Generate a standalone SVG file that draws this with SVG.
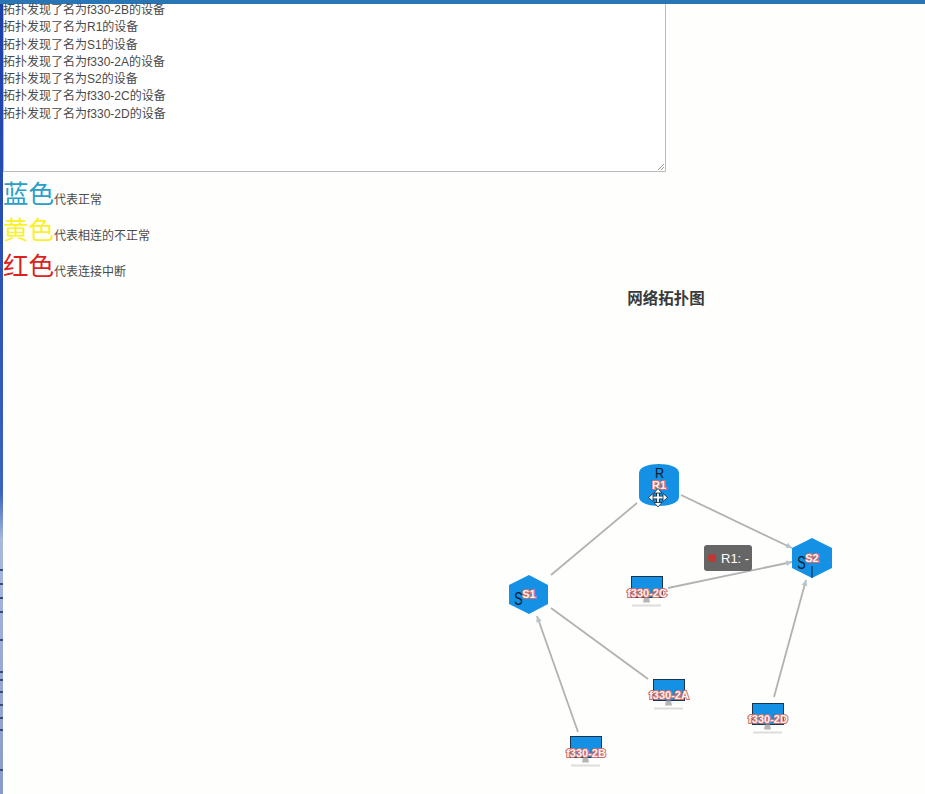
<svg xmlns="http://www.w3.org/2000/svg" width="925" height="794" viewBox="0 0 925 794">
<style>
.log{font:12px "Liberation Sans","Noto Sans CJK SC",sans-serif;fill:#4a4a4a}
.big{font:25.500px "Liberation Sans","Noto Sans CJK SC",sans-serif}
.small{font:12px "Liberation Sans","Noto Sans CJK SC",sans-serif;fill:#4a4a4a}
.lbl{font:bold 11px "Liberation Sans",sans-serif;fill:#fdf0f0;stroke:#c8706c;stroke-width:2px;paint-order:stroke;text-anchor:middle}
.glyph{font:18px "Liberation Sans",sans-serif;fill:#061a30;text-anchor:middle}
.link{stroke:#b2b2b2;stroke-width:1.800;fill:none}
.node{fill:#1490e4}
</style>
<defs>
<marker id="arr" markerWidth="7" markerHeight="8" refX="6" refY="3.500" orient="auto" markerUnits="userSpaceOnUse"><path d="M0 0.500L6 3.500L0 6.500Z" fill="#b8c4c8"/></marker>
<linearGradient id="strip" x1="0" y1="0" x2="0" y2="1"><stop offset="0" stop-color="#1c3fa8"/><stop offset="0.62" stop-color="#3a62c0"/><stop offset="0.68" stop-color="#a9b8dc"/><stop offset="1" stop-color="#8a9ac8"/></linearGradient>
<g id="pc">
<rect x="-15.500" y="-17.500" width="31" height="21" fill="#1490e4" stroke="#1b3550" stroke-width="1"/>
<path d="M-3 3.500h5l1 5h-7z" fill="#b5b5b5"/>
<path d="M-15 11.500h29" stroke="#ddd" stroke-width="2"/>
</g>
</defs>
<rect width="925" height="794" fill="#fefefc"/>
<rect x="0" y="0" width="3" height="794" fill="url(#strip)"/>
<path d="M0 570h3M0 584h3M0 598h3M0 612h3M0 640h3M0 672h3M0 680h3M0 692h3M0 705h3M0 718h3M0 730h3M0 770h3" stroke="#3a4a7f" stroke-width="2"/>
<rect x="0" y="0" width="925" height="4" fill="#2a76b4"/>

<path d="M3.500 4V171.500H665.500V4" fill="#fff" stroke="#bbb"/>
<path d="M658 170L664 164M661 170L664 167" stroke="#999"/>
<g class="log">
<text x="3" y="13.500">拓扑发现了名为f330-2B的设备</text>
<text x="3" y="31">拓扑发现了名为R1的设备</text>
<text x="3" y="48.500">拓扑发现了名为S1的设备</text>
<text x="3" y="65.500">拓扑发现了名为f330-2A的设备</text>
<text x="3" y="83">拓扑发现了名为S2的设备</text>
<text x="3" y="100">拓扑发现了名为f330-2C的设备</text>
<text x="3" y="117.500">拓扑发现了名为f330-2D的设备</text>
</g>
<text class="big" x="3" y="203" fill="#2a9fc9">蓝色</text><text class="small" x="54" y="204">代表正常</text>
<text class="big" x="3" y="239" fill="#fbf02a">黄色</text><text class="small" x="54" y="240">代表相连的不正常</text>
<text class="big" x="3" y="275" fill="#d9231c">红色</text><text class="small" x="54" y="276">代表连接中断</text>
<text x="666" y="303.500" text-anchor="middle" style="font:bold 15.500px 'Liberation Sans','Noto Sans CJK SC',sans-serif;fill:#3a3a3a">网络拓扑图</text>

<g id="connectors">
<path class="link" d="M551 575L637 503"/>
<path class="link" d="M681 495L792 548" marker-end="url(#arr)"/>
<path class="link" d="M668 588L792 562" marker-end="url(#arr)"/>
<path class="link" d="M774 697L806 580" marker-end="url(#arr)"/>
<path class="link" d="M551 608L648 679"/>
<path class="link" d="M578 732L537 616" marker-end="url(#arr)"/>
</g>

<g id="R1">
<path class="node" d="M639 473C639 461 679 461 679 473V497C679 509 639 509 639 497Z"/>
<text class="glyph" transform="translate(659.500 478) scale(.7 .85)">R</text>
<text class="lbl" x="659" y="489">R1</text>
<path d="M658 490V505M650 497.500H666" stroke="#123" stroke-width="3.500"/>
<path d="M658 490V505M650 497.500H666" stroke="#fff" stroke-width="1.800"/>
<path d="M658 488.500l-4 4.500h8zM658 507l-4-4.500h8zM648.500 497.500l4.500-4v8zM667.500 497.500l-4.500-4v8z" fill="#fff" stroke="#123" stroke-width=".8"/>
</g>
<g id="S1">
<path class="node" d="M529 575L548 585V604L529 614L509 604V585Z"/>
<text class="glyph" transform="translate(518.500 605) scale(.7 1)">S</text>
<text class="lbl" x="529" y="598">S1</text>
</g>
<g id="S2">
<path class="node" d="M812 538L832 548V568L812 578L792 568V548Z"/>
<path d="M812 566V578" stroke="#0b2540"/>
<text class="glyph" transform="translate(801.500 569) scale(.7 1)">S</text>
<text class="lbl" x="812" y="562">S2</text>
</g>
<g id="f330-2C"><use href="#pc" x="647" y="594"/><text class="lbl" x="647" y="597">f330-2C</text></g>
<g id="f330-2A"><use href="#pc" x="669" y="697"/><text class="lbl" x="669" y="699">f330-2A</text></g>
<g id="f330-2B"><use href="#pc" x="586" y="754"/><text class="lbl" x="586" y="757">f330-2B</text></g>
<g id="f330-2D"><use href="#pc" x="768" y="721"/><text class="lbl" x="768" y="723">f330-2D</text></g>

<g id="tooltip">
<rect x="704" y="545" width="48" height="26" rx="3" fill="#666"/>
<circle cx="712" cy="558" r="4" fill="#c23531"/>
<text x="721" y="563" style="font:13px 'Liberation Sans',sans-serif;fill:#fff">R1: -</text>
</g>
</svg>
